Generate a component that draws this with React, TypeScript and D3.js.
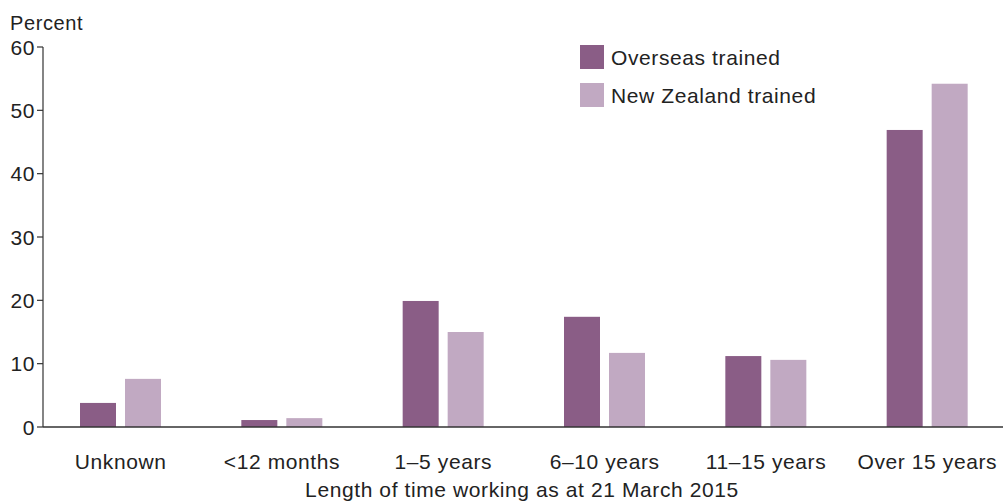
import { useEffect, useRef } from "react";
import * as d3 from "d3";

const categories = ["Unknown", "<12 months", "1–5 years", "6–10 years", "11–15 years", "Over 15 years"];
const seriesNames = ["Overseas trained", "New Zealand trained"];
const overseas = [3.8, 1.1, 19.9, 17.4, 11.2, 46.9];
const newZealand = [7.6, 1.4, 15.0, 11.7, 10.6, 54.2];
const yTicks = [0, 10, 20, 30, 40, 50, 60];
const colors = ["#8a5d86", "#c1a9c2"];

const App = () => {
  const svgRef = useRef<SVGSVGElement>(null);

  useEffect(() => {
    if (!svgRef.current) return;
    const svg = d3.select(svgRef.current);
    svg.selectAll("*").remove();

    const font = "'Liberation Sans', Arial, sans-serif";
    const w = 1003;
    const h = 501;
    const axisX = 43;
    const fs = 21;
    const ls = 0.6;

    const y = d3.scaleLinear().domain([0, 60]).range([427, 47]);
    const x0 = d3.scaleBand().domain(categories).range([40, 1008]).padding(0);
    const x1 = d3.scaleBand().domain(seriesNames).range([40, 121]).paddingInner(0.2);

    const values = [overseas, newZealand];

    // bars
    categories.forEach((c, i) => {
      seriesNames.forEach((s, j) => {
        const v = values[j][i];
        svg
          .append("rect")
          .attr("x", (x0(c) ?? 0) + (x1(s) ?? 0))
          .attr("y", y(v))
          .attr("width", x1.bandwidth())
          .attr("height", y(0) - y(v))
          .attr("fill", colors[j]);
      });
    });

    // y axis
    svg
      .append("line")
      .attr("x1", axisX)
      .attr("x2", axisX)
      .attr("y1", y(60))
      .attr("y2", y(0))
      .attr("stroke", "#333")
      .attr("stroke-width", 1.2);

    yTicks.forEach((t) => {
      svg
        .append("line")
        .attr("x1", axisX - 6)
        .attr("x2", axisX)
        .attr("y1", y(t))
        .attr("y2", y(t))
        .attr("stroke", "#333")
        .attr("stroke-width", 1.2);
      svg
        .append("text")
        .attr("x", axisX - 8)
        .attr("y", y(t) + 7.5)
        .attr("text-anchor", "end")
        .attr("font-family", font)
        .attr("font-size", fs)
        .attr("letter-spacing", ls)
        .attr("fill", "#222")
        .text(t);
    });

    // baseline
    svg
      .append("line")
      .attr("x1", axisX)
      .attr("x2", w)
      .attr("y1", y(0))
      .attr("y2", y(0))
      .attr("stroke", "#333")
      .attr("stroke-width", 1.5);

    // category labels
    categories.forEach((c) => {
      svg
        .append("text")
        .attr("x", (x0(c) ?? 0) + x0.bandwidth() / 2)
        .attr("y", 469)
        .attr("text-anchor", "middle")
        .attr("font-family", font)
        .attr("font-size", fs)
        .attr("letter-spacing", ls)
        .attr("fill", "#222")
        .text(c);
    });

    svg
      .append("text")
      .attr("x", 522)
      .attr("y", 497)
      .attr("text-anchor", "middle")
      .attr("font-family", font)
      .attr("font-size", fs)
      .attr("letter-spacing", ls)
      .attr("fill", "#222")
      .text("Length of time working as at 21 March 2015");

    svg
      .append("text")
      .attr("x", 10)
      .attr("y", 30)
      .attr("font-family", font)
      .attr("font-size", 20)
      .attr("letter-spacing", ls)
      .attr("fill", "#222")
      .text("Percent");

    // legend
    seriesNames.forEach((s, j) => {
      const ly = 45 + j * 38;
      svg
        .append("rect")
        .attr("x", 580)
        .attr("y", ly)
        .attr("width", 24)
        .attr("height", 24)
        .attr("fill", colors[j]);
      svg
        .append("text")
        .attr("x", 611)
        .attr("y", ly + 19.5)
        .attr("font-family", font)
        .attr("font-size", fs)
        .attr("letter-spacing", ls)
        .attr("fill", "#222")
        .text(s);
    });

    svg.attr("width", w).attr("height", h);
  }, []);

  return (
    <svg
      ref={svgRef}
      style={{ position: "absolute", left: 0, top: 0, background: "#fff" }}
    />
  );
};

export default App;
